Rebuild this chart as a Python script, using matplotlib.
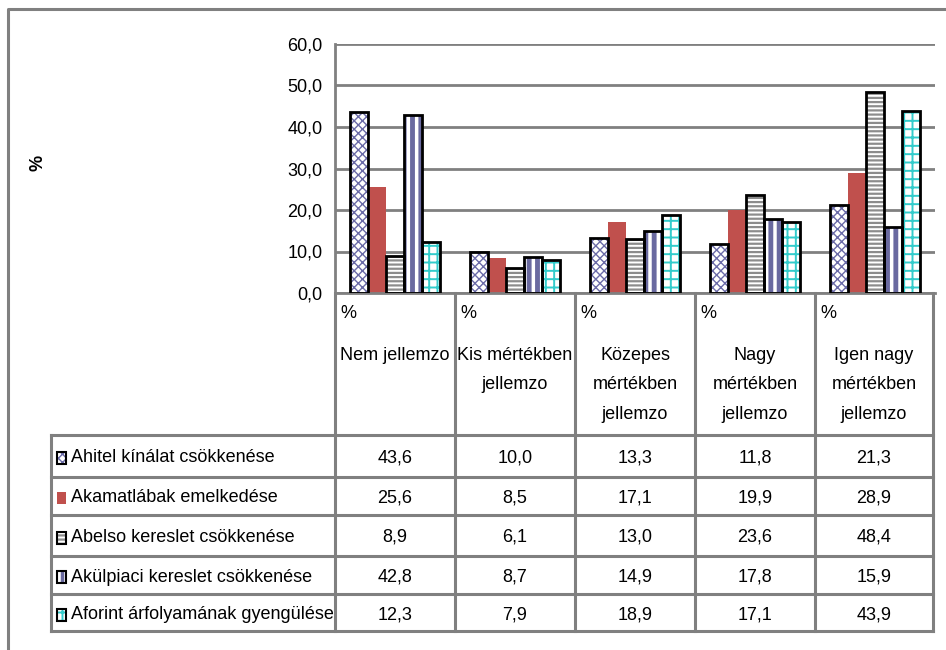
import matplotlib.pyplot as plt
import matplotlib
from matplotlib.patches import Rectangle
import numpy as np

matplotlib.rcParams.update({
    'font.family': ['Liberation Sans Narrow', 'Liberation Sans', 'DejaVu Sans'],
    'hatch.linewidth': 1.2,
})

categories = ['Nem jellemzo', 'Kis mértékben\njellemzo', 'Közepes\nmértékben\njellemzo',
              'Nagy\nmértékben\njellemzo', 'Igen nagy\nmértékben\njellemzo']
series_names = ['Ahitel kínálat csökkenése', 'Akamatlábak emelkedése',
                'Abelso kereslet csökkenése', 'Akülpiaci kereslet csökkenése',
                'Aforint árfolyamának gyengülése']
hitel = [43.6, 10.0, 13.3, 11.8, 21.3]
kamat = [25.6, 8.5, 17.1, 19.9, 28.9]
belso = [8.9, 6.1, 13.0, 23.6, 48.4]
kulpiaci = [42.8, 8.7, 14.9, 17.8, 15.9]
forint = [12.3, 7.9, 18.9, 17.1, 43.9]
series = [hitel, kamat, belso, kulpiaci, forint]

# (face, hatch, hatch colour, black outline, hatch width)
styles = [
    ('white', 'xxxx', '#6b6ba8', True, 1.0),
    ('#c0504d', None, '#c0504d', False, 1.0),
    ('white', '----', '#8c8c8c', True, 1.6),
    ('white', '||', '#6a6aa0', True, 3.5),
    ('white', '++', '#33cccc', True, 1.4),
]

W, H = 946, 650
fig = plt.figure(figsize=(W / 100, H / 100), dpi=100)

# pixel-space overlay for frame and data table
ov = fig.add_axes([0, 0, 1, 1], zorder=0)
ov.set_xlim(0, W)
ov.set_ylim(H, 0)
ov.axis('off')

gray = '#808080'
# outer chart frame (runs off the right and bottom edges)
ov.plot([8, 8, W + 5], [H + 5, 9, 9], color=gray, lw=2.2, solid_capstyle='butt')

# plot area
x0, x1 = 335, 935
y_top, y_zero = 44, 293
ax = fig.add_axes([x0 / W, 1 - y_zero / H, (x1 - x0) / W, (y_zero - y_top) / H], zorder=1)
ax.patch.set_alpha(0)


def set_hw(patches, w):
    for p in patches:
        if hasattr(p, 'set_hatch_linewidth'):
            p.set_hatch_linewidth(w)


n = len(categories)
idx = np.arange(n)
bw = 0.15
for i, (vals, (face, hatch, hc, outline, hw)) in enumerate(zip(series, styles)):
    pos = idx + (i - 2) * bw
    if hatch:
        with matplotlib.rc_context({'hatch.linewidth': hw}):
            bars = ax.bar(pos, vals, bw, color=face, edgecolor=hc, hatch=hatch, linewidth=0, zorder=2)
        set_hw(bars, hw)
        ax.bar(pos, vals, bw, color='none', edgecolor='black', linewidth=2, zorder=3)
    else:
        ax.bar(pos, vals, bw, color=face, linewidth=0, zorder=2)

ax.set_xlim(-0.5, n - 0.5)
ax.set_ylim(0, 60)
ax.set_yticks(np.arange(0, 61, 10))
ax.set_yticklabels([f'{v:.1f}'.replace('.', ',') for v in np.arange(0, 61, 10)], fontsize=13)
ax.tick_params(axis='y', length=0, pad=9)
ax.set_xticks([])
ax.grid(axis='y', color=gray, lw=2, zorder=0)
for s in ['top', 'right']:
    ax.spines[s].set_visible(False)
ax.spines['left'].set_color(gray)
ax.spines['left'].set_linewidth(2)
ax.spines['bottom'].set_color(gray)
ax.spines['bottom'].set_linewidth(2)

fig.text(38 / W, 1 - 163 / H, '%', rotation=90, fontsize=13, ha='center', va='center',
         fontweight='bold')

# data table under the bars
col_edges = [x0 + 120 * k for k in range(n)] + [933]
row_edges = [435, 477, 515, 556, 594, 631]
tbl_left = 51
lk = dict(color=gray, lw=2.2, solid_capstyle='projecting')
for xe in col_edges:
    ov.plot([xe, xe], [y_zero, row_edges[-1]], **lk)
ov.plot([tbl_left, tbl_left], [row_edges[0], row_edges[-1]], **lk)
for ye in row_edges:
    ov.plot([tbl_left, col_edges[-1]], [ye, ye], **lk)

for k, cat in enumerate(categories):
    cx = (col_edges[k] + col_edges[k + 1]) / 2
    ov.text(col_edges[k] + 5, 314, '%', fontsize=13, ha='left', va='center')
    ov.text(cx, 347, cat, fontsize=13, ha='center', va='top', linespacing=1.95)

for r, (name, vals, (face, hatch, hc, outline, hw)) in enumerate(zip(series_names, series, styles)):
    cy = (row_edges[r] + row_edges[r + 1]) / 2 + 2
    with matplotlib.rc_context({'hatch.linewidth': min(hw, 2.5)}):
        key = ov.add_patch(Rectangle((57, cy - 6), 9, 12, facecolor=face,
                                     edgecolor=hc if hatch else face, hatch=hatch, linewidth=0))
    set_hw([key], min(hw, 2.5))
    if outline:
        ov.add_patch(Rectangle((57, cy - 6), 9, 12, facecolor='none', edgecolor='black', linewidth=1.5))
    ov.text(71, cy, name, fontsize=13, ha='left', va='center')
    for k, v in enumerate(vals):
        cx = (col_edges[k] + col_edges[k + 1]) / 2
        ov.text(cx, cy, f'{v:.1f}'.replace('.', ','), fontsize=13, ha='center', va='center')

fig.savefig('out.png', dpi=100)
